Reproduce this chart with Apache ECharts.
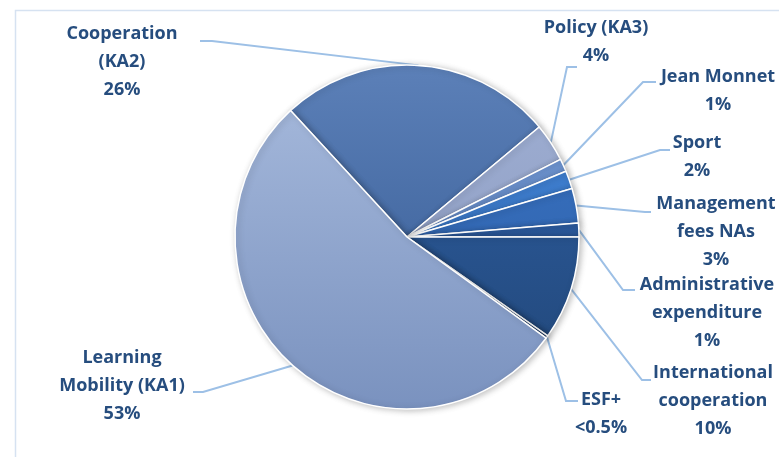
<!DOCTYPE html>
<html>
<head>
<meta charset="utf-8">
<script src="https://cdn.jsdelivr.net/npm/echarts@6/dist/echarts.min.js"></script>
<style>
html,body{margin:0;padding:0;background:#fff;}
#chart{width:779px;height:457px;}
</style>
</head>
<body>
<div id="chart"></div>
<script>
// Data (share of budget, %), order clockwise from Cooperation
const categories = ['Cooperation\n(KA2)', 'Policy (KA3)', 'Jean Monnet', 'Sport', 'Management\nfees NAs', 'Administrative\nexpenditure', 'International\ncooperation', 'ESF+', 'Learning\nMobility (KA1)'];
const values = [25.8, 3.6, 1.2, 1.7, 3.25, 1.3, 9.75, 0.25, 53.2];
const pctLabels = ['26%', '4%', '1%', '2%', '3%', '1%', '10%', '<0.5%', '53%'];

// Styling (not data)
const colorStops = [
  ['#5c80b8', '#30568f'],
  ['#a0b0d4', '#8796bc'],
  ['#7097d2', '#6286c4'],
  ['#4282d2', '#3470c0'],
  ['#3a74c4', '#2c5ea6'],
  ['#2e60a6', '#264f8c'],
  ['#2f60a5', '#214677'],
  ['#23467a', '#1c3862'],
  ['#a8bbdd', '#7a92bf']
];
// label centre [x, y] and leader line elbow / end points
const labelPos = [[122, 62], [596, 42], [718, 91], [697, 157], [716, 232], [707, 313], [713, 401], [601, 414], [122, 386]];
const elbows = [[[212, 41], [200, 41]], [[567, 67], [577, 67]], [[643, 82], [656, 82]], [[660, 150], [670, 150]], [[645, 212], [651, 212]], [[623, 290], [635, 290]], [[642, 380], [651, 380]], [[566, 401], [578, 401]], [[203, 392], [193, 392]]];

const cx = 407, cy = 237, R = 172;
const startAngle = 132.6;

const data = categories.map((c, i) => ({
  name: c,
  value: values[i],
  itemStyle: {
    color: {type: 'linear', x: 0, y: cy - R, x2: 0, y2: cy + R, global: true,
      colorStops: [{offset: 0, color: colorStops[i][0]}, {offset: 1, color: colorStops[i][1]}]}
  }
}));

const total = values.reduce((a, b) => a + b, 0);
function edgePoint(i) {
  let before = 0;
  for (let k = 0; k < i; k++) before += values[k];
  const mid = startAngle - (before + values[i] / 2) / total * 360;
  const r = mid * Math.PI / 180;
  return [cx + R * Math.cos(r), cy - R * Math.sin(r)];
}

const chart = echarts.init(document.getElementById('chart'), null, {renderer: 'canvas'});
chart.setOption({
  backgroundColor: '#fff',
  animation: false,
  graphic: [{
    type: 'rect', shape: {x: 15.5, y: 10.5, width: 800, height: 500},
    style: {fill: 'none', stroke: '#d6e2f1', lineWidth: 1.5}, z: -1
  }],
  series: [{
    type: 'pie',
    center: [cx, cy],
    radius: [0, R],
    startAngle: startAngle,
    clockwise: true,
    avoidLabelOverlap: false,
    data: data,
    itemStyle: {borderColor: '#ffffff', borderWidth: 1.5, shadowBlur: 6, shadowOffsetX: 2, shadowOffsetY: 1, shadowColor: 'rgba(0,0,0,0.25)'},
    label: {
      show: true,
      formatter: p => p.name + '\n' + pctLabels[p.dataIndex],
      fontFamily: 'Open Sans',
      fontWeight: 'bold',
      fontSize: 18,
      lineHeight: 28,
      color: '#264d7e',
      align: 'center'
    },
    labelLine: {show: true, lineStyle: {color: '#9dc0e6', width: 2}},
    labelLayout: function (p) {
      const i = p.dataIndex;
      const start = edgePoint(i);
      return {
        x: labelPos[i][0],
        y: labelPos[i][1],
        align: 'center',
        verticalAlign: 'middle',
        labelLinePoints: [start, elbows[i][0], elbows[i][1]]
      };
    }
  }]
});
</script>
</body>
</html>
